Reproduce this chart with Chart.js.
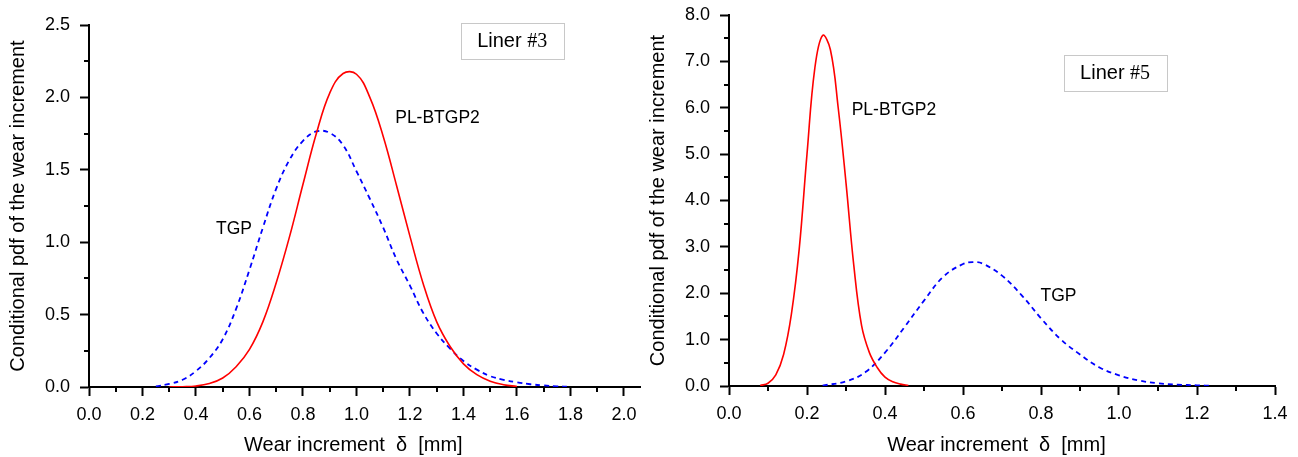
<!DOCTYPE html>
<html>
<head>
<meta charset="utf-8">
<script src="https://cdn.jsdelivr.net/npm/chart.js@4/dist/chart.umd.min.js"></script>
<style>
  body { margin: 0; background: #fff; }
  #wrap { position: relative; width: 1298px; height: 457px; overflow: hidden; }
  #c1 { position: absolute; left: 0; top: 0; }
  #c2 { position: absolute; left: 645px; top: 0; }
</style>
</head>
<body>
<div id="wrap">
  <canvas id="c1" width="650" height="457"></canvas>
  <canvas id="c2" width="653" height="457"></canvas>
</div>
<script>
// Liner #3 - wear increment [mm] and conditional pdf values
const deltaL3Red = [0.30, 0.35, 0.40, 0.45, 0.50, 0.55, 0.60, 0.65, 0.70, 0.75, 0.80, 0.85, 0.90, 0.95,
  1.00, 1.05, 1.10, 1.15, 1.20, 1.25, 1.30, 1.35, 1.40, 1.45, 1.50, 1.55, 1.60];
const pdfL3Red = [0.000, 0.002, 0.007, 0.024, 0.062, 0.14, 0.26, 0.45, 0.72, 1.04, 1.40, 1.75, 2.03, 2.165,
  2.16, 2.00, 1.73, 1.39, 1.04, 0.71, 0.45, 0.28, 0.16, 0.085, 0.040, 0.016, 0.004];

const deltaL3Blue = [0.25, 0.30, 0.35, 0.40, 0.45, 0.50, 0.55, 0.60, 0.65, 0.70, 0.75, 0.80, 0.85, 0.90, 0.95,
  1.00, 1.05, 1.10, 1.15, 1.20, 1.25, 1.30, 1.35, 1.40, 1.45, 1.50, 1.55, 1.60, 1.65, 1.70, 1.75, 1.80];
const pdfL3Blue = [0.004, 0.021, 0.05, 0.11, 0.20, 0.33, 0.54, 0.81, 1.10, 1.37, 1.57, 1.70, 1.765, 1.755, 1.67,
  1.49, 1.30, 1.10, 0.88, 0.70, 0.51, 0.37, 0.265, 0.18, 0.12, 0.075, 0.05, 0.032, 0.019, 0.011, 0.005, 0.002];

// Liner #5
const deltaL5Red = [0.08, 0.10, 0.12, 0.14, 0.16, 0.18, 0.20, 0.22, 0.24, 0.26, 0.28, 0.30, 0.32, 0.34, 0.36,
  0.38, 0.40, 0.42, 0.44, 0.46];
const pdfL5Red = [0.01, 0.06, 0.24, 0.68, 1.55, 2.95, 5.00, 6.85, 7.56, 7.25, 6.00, 4.38, 2.60, 1.30, 0.72,
  0.40, 0.19, 0.09, 0.04, 0.01];

const deltaL5Blue = [0.24, 0.30, 0.35, 0.40, 0.45, 0.50, 0.55, 0.60, 0.625, 0.65, 0.70, 0.75, 0.80, 0.85, 0.90,
  0.95, 1.00, 1.05, 1.10, 1.15, 1.20, 1.24];
const pdfL5Blue = [0.01, 0.10, 0.30, 0.72, 1.27, 1.84, 2.36, 2.63, 2.67, 2.64, 2.38, 1.96, 1.46, 1.01, 0.68,
  0.40, 0.23, 0.12, 0.06, 0.03, 0.015, 0.005];

const seriesNames = ['PL-BTGP2', 'TGP'];

Chart.defaults.font.family = "'Liberation Sans', Arial, sans-serif";
Chart.defaults.color = '#000';

function pts(xs, ys) {
  return xs.map((x, i) => ({ x: x, y: ys[i] }));
}

// small ticks between the labelled ones
const minorTicks = {
  id: 'minorTicks',
  afterDraw(chart, args, opts) {
    const ctx = chart.ctx, area = chart.chartArea;
    ctx.save();
    ctx.strokeStyle = '#000';
    ctx.lineWidth = 2;
    const sx = chart.scales.x, sy = chart.scales.y;
    for (let v = opts.x; v <= sx.max + 1e-9; v += 2 * opts.x) {
      const p = Math.round(sx.getPixelForValue(v));
      ctx.beginPath(); ctx.moveTo(p, area.bottom); ctx.lineTo(p, area.bottom + 5); ctx.stroke();
    }
    for (let v = opts.y; v <= sy.max + 1e-9; v += 2 * opts.y) {
      const p = Math.round(sy.getPixelForValue(v));
      ctx.beginPath(); ctx.moveTo(area.left, p); ctx.lineTo(area.left - 5, p); ctx.stroke();
    }
    ctx.restore();
  }
};

// curve labels and the liner box
const notes = {
  id: 'notes',
  afterDatasetsDraw(chart, args, opts) {
    const ctx = chart.ctx;
    const sx = chart.scales.x, sy = chart.scales.y;
    ctx.save();
    ctx.textBaseline = 'middle';
    opts.labels.forEach(n => {
      ctx.font = "17.5px 'Liberation Sans', Arial, sans-serif";
      ctx.fillStyle = '#000';
      ctx.textAlign = 'center';
      ctx.fillText(n.text, sx.getPixelForValue(n.x), sy.getPixelForValue(n.y));
    });
    const b = opts.box;
    const cx = sx.getPixelForValue(b.x), cy = sy.getPixelForValue(b.y);
    ctx.fillStyle = '#fff';
    ctx.fillRect(cx - 51.5, cy - 18, 103, 36);
    ctx.strokeStyle = '#c8c8c8';
    ctx.lineWidth = 1;
    ctx.strokeRect(Math.round(cx - 51.5) + 0.5, Math.round(cy - 18) + 0.5, 103, 36);
    const f1 = "20px 'Liberation Sans', Arial, sans-serif";
    const f2 = "20px 'Liberation Serif', 'Times New Roman', serif";
    ctx.font = f1; const w1 = ctx.measureText(b.word).width;
    ctx.font = f2; const w2 = ctx.measureText(b.num).width;
    let x0 = cx - (w1 + w2) / 2;
    ctx.textAlign = 'left';
    ctx.fillStyle = '#000';
    ctx.font = f1; ctx.fillText(b.word, x0, cy + 1);
    ctx.font = f2; ctx.fillText(b.num, x0 + w1, cy + 1);
    ctx.restore();
  }
};

function makeChart(id, cfg) {
  return new Chart(document.getElementById(id), {
    type: 'line',
    data: {
      datasets: [{
        label: seriesNames[0],
        data: cfg.red,
        borderColor: '#ff0000',
        borderWidth: 1.6,
        pointRadius: 0,
        tension: 0.4
      }, {
        label: seriesNames[1],
        data: cfg.blue,
        borderColor: '#0000ff',
        borderWidth: 1.8,
        borderDash: [5, 4],
        pointRadius: 0,
        tension: 0.4
      }]
    },
    options: {
      responsive: false,
      animation: false,
      layout: { padding: cfg.padding },
      plugins: {
        legend: { display: false },
        tooltip: { enabled: false },
        minorTicks: cfg.minor,
        notes: cfg.notes
      },
      scales: {
        x: {
          type: 'linear',
          min: 0,
          max: cfg.xMax,
          border: { display: true, color: '#000', width: 2 },
          grid: { drawOnChartArea: false, tickLength: 9, tickColor: '#000', tickWidth: 2 },
          ticks: {
            stepSize: cfg.xStep, includeBounds: false, autoSkip: false, maxRotation: 0,
            padding: 8, font: { size: 18 }, color: '#000',
            callback: v => v.toFixed(1)
          },
          title: {
            display: true, text: 'Wear increment  δ  [mm]' + cfg.titleTail, font: { size: 20 }, color: '#000',
            padding: { top: 1, bottom: 0 }
          },
          afterFit: s => { s.height = cfg.xHeight; s.paddingLeft = 0; s.paddingRight = 0; }
        },
        y: {
          min: 0,
          max: cfg.yMax,
          border: { display: true, color: '#000', width: 2 },
          grid: { drawOnChartArea: false, tickLength: 9, tickColor: '#000', tickWidth: 2 },
          ticks: {
            stepSize: cfg.yStep, includeBounds: false, padding: 10, font: { size: 18 }, color: '#000',
            callback: v => v.toFixed(1)
          },
          title: {
            display: true, text: 'Conditional pdf of the wear increment', font: { size: 20 }, color: '#000',
            padding: { top: cfg.yTitlePad, bottom: 0 }
          },
          afterFit: s => { s.width = cfg.yWidth; s.paddingTop = 0; s.paddingBottom = 0; }
        }
      }
    },
    plugins: [minorTicks, notes]
  });
}

makeChart('c1', {
  red: pts(deltaL3Red, pdfL3Red),
  blue: pts(deltaL3Blue, pdfL3Blue),
  xMax: 2.06, xStep: 0.2, yMax: 2.5, yStep: 0.5,
  padding: { left: 0, right: 10, top: 25, bottom: 0 },
  xHeight: 70, yWidth: 89, yTitlePad: 6, titleTail: '    ',
  minor: { x: 0.1, y: 0.25 },
  notes: {
    labels: [
      { text: 'TGP', x: 0.542, y: 1.09 },
      { text: 'PL-BTGP2', x: 1.303, y: 1.857 }
    ],
    box: { word: 'Liner ', num: '#3', x: 1.582, y: 2.39 }
  }
});

makeChart('c2', {
  red: pts(deltaL5Red, pdfL5Red),
  blue: pts(deltaL5Blue, pdfL5Blue),
  xMax: 1.4, xStep: 0.2, yMax: 8, yStep: 1,
  padding: { left: 0, right: 23, top: 15, bottom: 0 },
  xHeight: 71, yWidth: 84, yTitlePad: 1, titleTail: '  ',
  minor: { x: 0.1, y: 0.5 },
  notes: {
    labels: [
      { text: 'PL-BTGP2', x: 0.423, y: 5.95 },
      { text: 'TGP', x: 0.845, y: 1.93 }
    ],
    box: { word: 'Liner ', num: '#5', x: 0.99, y: 6.76 }
  }
});
</script>
</body>
</html>
